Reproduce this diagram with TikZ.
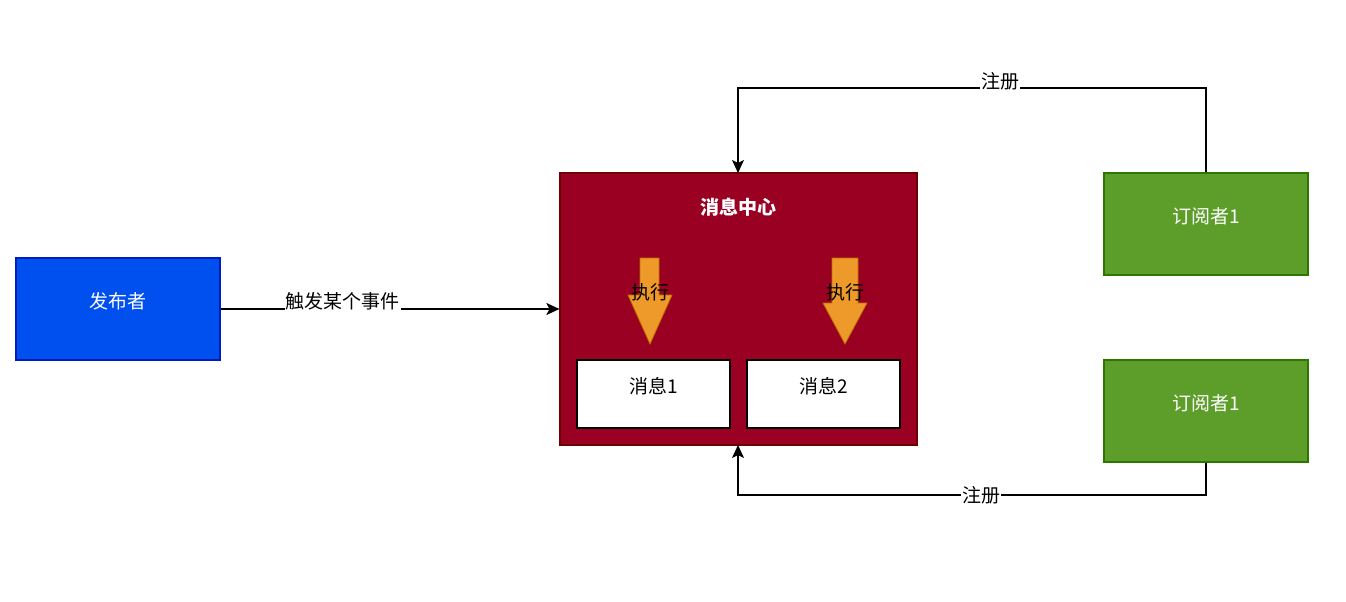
\documentclass[tikz,border=0pt]{standalone}
\usepackage{fontspec}
\setmainfont{Noto Sans CJK SC}
\usetikzlibrary{arrows.meta}
\definecolor{pubfill}{HTML}{0050EF}
\definecolor{publine}{HTML}{001DBC}
\definecolor{hubfill}{HTML}{990022}
\definecolor{hubline}{HTML}{6F0000}
\definecolor{subfill}{HTML}{5C9E29}
\definecolor{subline}{HTML}{2D7600}
\definecolor{arrfill}{HTML}{EE9A2A}
\definecolor{arrline}{HTML}{BD7000}
\tikzset{
  box/.style={draw, line width=1.2pt, inner sep=0pt},
  lbl/.style={font=\fontsize{19}{21}\selectfont, inner sep=1pt},
  conn/.style={line width=1.4pt, -{Stealth[length=13pt,width=12pt,inset=3pt]}},
  edgelbl/.style={lbl, fill=white, inner sep=1pt},
}
\begin{document}
\begin{tikzpicture}[x=1pt,y=-1pt]
\useasboundingbox (0,0) rectangle (1346,602);
% publisher
\node[box, fill=pubfill, draw=publine, minimum width=204pt, minimum height=102pt] (pub) at (118,309) {};
\node[lbl, text=white] (pubt) at (118,301) {发布者};
% hub
\node[box, fill=hubfill, draw=hubline, minimum width=357pt, minimum height=272pt] (hub) at (738.5,309) {};
\node[lbl, text=white, font=\fontsize{19}{21}\selectfont\bfseries] (hubt) at (738,207) {消息中心};
% messages
\node[box, fill=white, draw=black, minimum width=153pt, minimum height=68pt] (m1) at (653.5,394) {};
\node[lbl] (m1t) at (653.5,386) {消息1};
\node[box, fill=white, draw=black, minimum width=153pt, minimum height=68pt] (m2) at (823.5,394) {};
\node[lbl] (m2t) at (823.5,386) {消息2};
% orange arrows
\draw[fill=arrfill, draw=arrline, line width=0.8pt]
  (640,258) -- (659,258) -- (659,295) -- (672,295) -- (650,344) -- (628,295) -- (640,295) -- cycle;
\draw[fill=arrfill, draw=arrline, line width=0.8pt]
  (832,258) -- (858,258) -- (858,303) -- (867,303) -- (845,344) -- (823,303) -- (832,303) -- cycle;
\node[lbl] (e1) at (650,292) {执行};
\node[lbl] (e2) at (845,292) {执行};
% subscribers
\node[box, fill=subfill, draw=subline, minimum width=204pt, minimum height=102pt] (s1) at (1206,224) {};
\node[lbl, text=white] (s1t) at (1206,216) {订阅者1};
\node[box, fill=subfill, draw=subline, minimum width=204pt, minimum height=102pt] (s2) at (1206,411) {};
\node[lbl, text=white] (s2t) at (1206,403) {订阅者1};
% connectors
\draw[conn] (pub.east) -- (hub.west) node[edgelbl, pos=0.36, yshift=8pt] {触发某个事件};
\coordinate (hubtop) at (738,173);
\coordinate (hubbot) at (738,445);
\draw[conn] (s1.north) -- (1206,88) -- node[edgelbl, pos=0.44, yshift=7pt] {注册} (738,88) -- (hubtop);
\draw[conn] (s2.south) -- (1206,495) -- node[edgelbl, pos=0.48] {注册} (738,495) -- (hubbot);
\end{tikzpicture}
\end{document}
